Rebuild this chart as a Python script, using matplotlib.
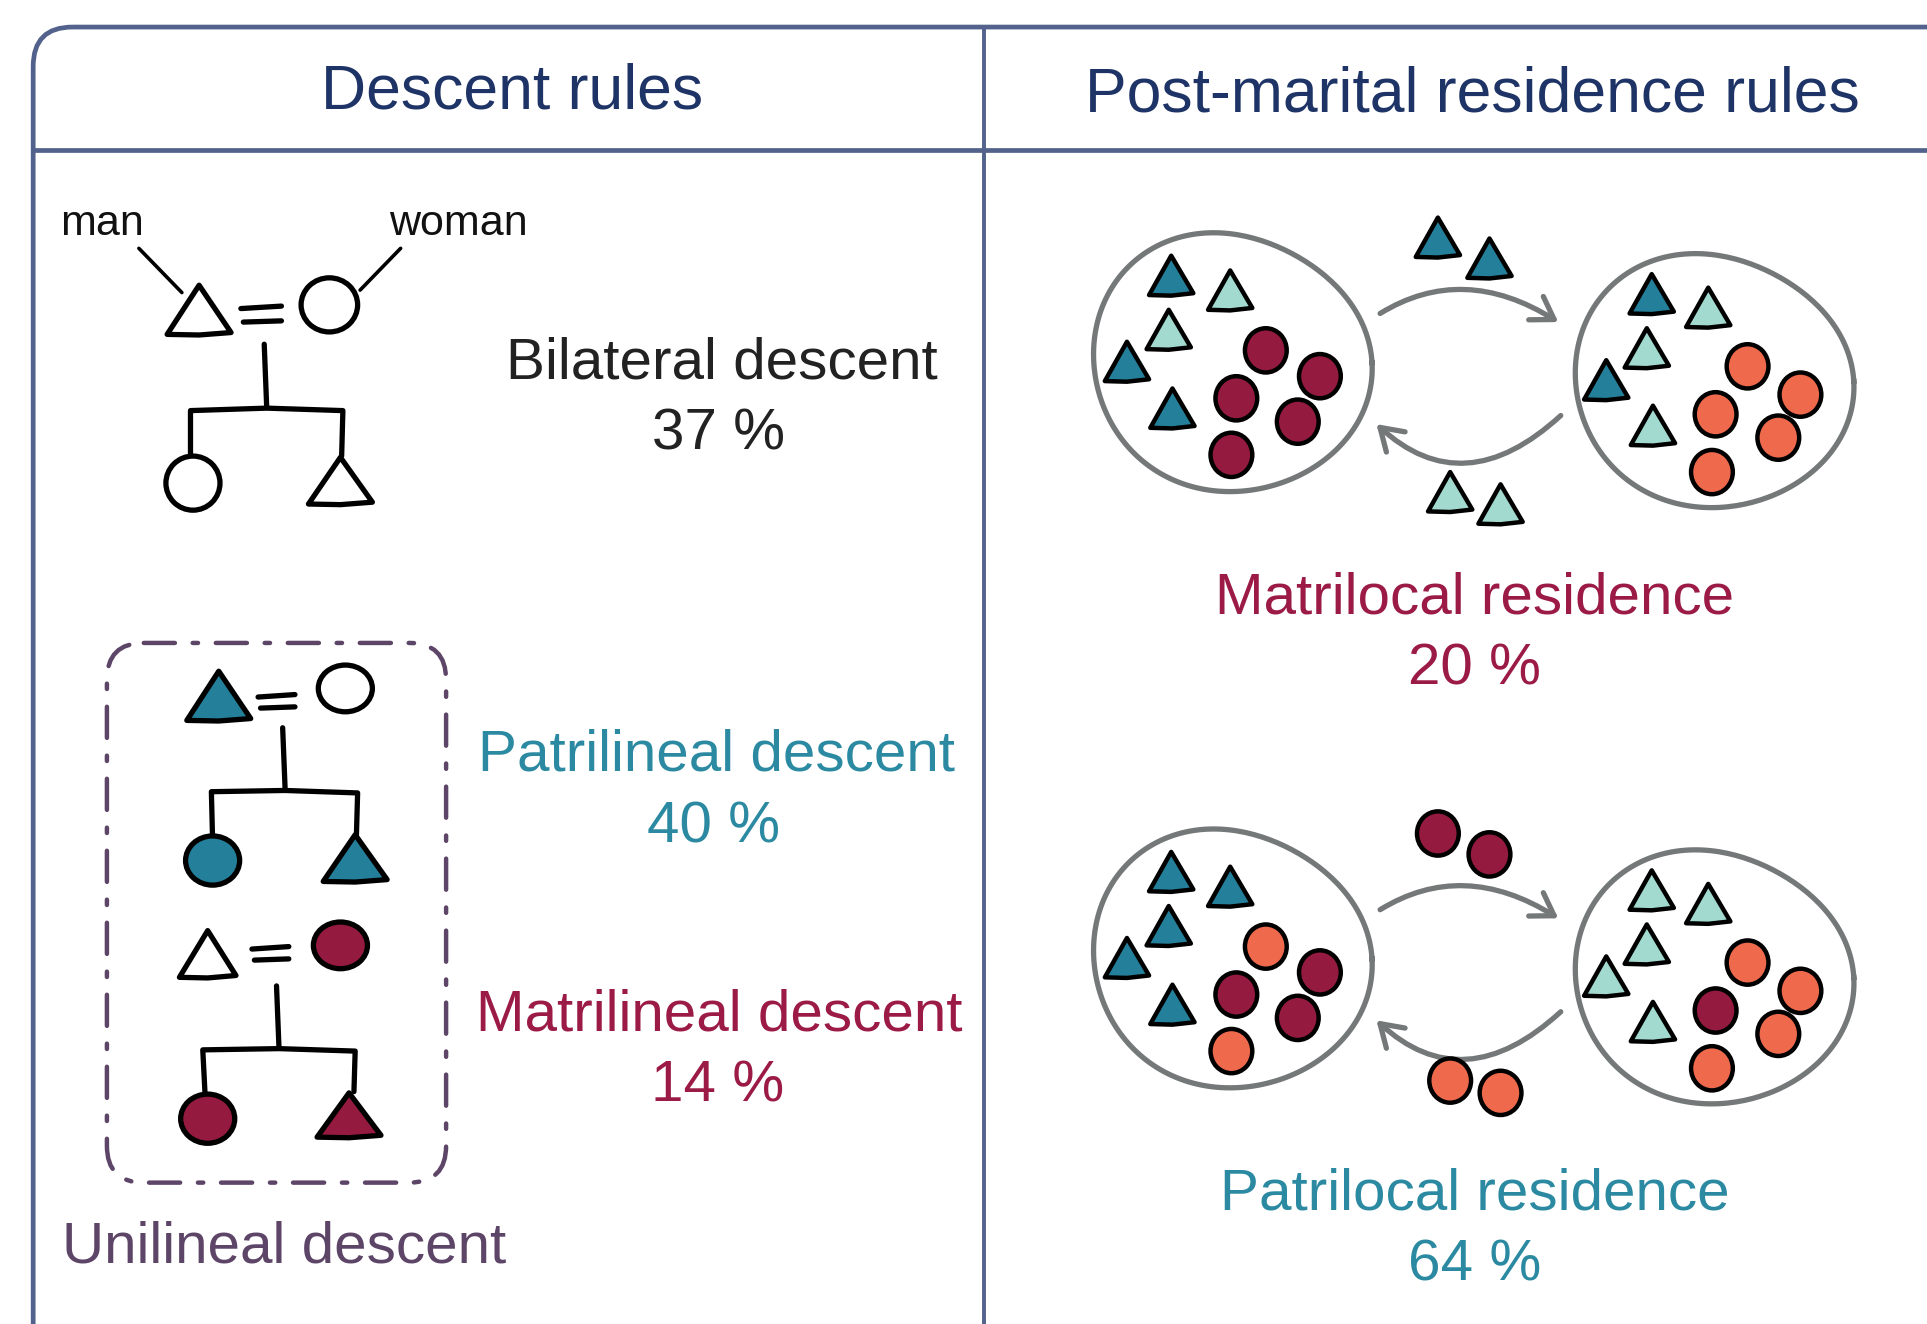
import matplotlib.pyplot as plt
from matplotlib.patches import Polygon, Ellipse, FancyBboxPatch, FancyArrowPatch
from matplotlib.path import Path
import numpy as np

plt.rcParams['font.family'] = ['Liberation Sans', 'DejaVu Sans']

# ---- data ----
descent_labels = ["Bilateral descent", "Patrilineal descent", "Matrilineal descent"]
descent_pct = [37, 40, 14]
residence_labels = ["Matrilocal residence", "Patrilocal residence"]
residence_pct = [20, 64]

# composition of the two villages (D = dark teal man, L = light teal man,
# M = maroon woman, O = orange woman)
matri_left_tri = ["D", "L", "L", "D", "D"]
matri_left_circ = ["M", "M", "M", "M", "M"]
matri_right_tri = ["D", "L", "L", "D", "L"]
matri_right_circ = ["O", "O", "O", "O", "O"]
matri_move_top = ["D", "D"]
matri_move_bottom = ["L", "L"]

patri_left_tri = ["D", "D", "D", "D", "D"]
patri_left_circ = ["O", "M", "M", "M", "O"]
patri_right_tri = ["L", "L", "L", "L", "L"]
patri_right_circ = ["O", "O", "M", "O", "O"]
patri_move_top = ["M", "M"]
patri_move_bottom = ["O", "O"]

# ---- colours ----
FRAME = "#52628c"
TITLE = "#1f3466"
TEAL = "#24809a"
LTEAL = "#a3dad0"
MAROON = "#951a3f"
ORANGE = "#ef6a4d"
GRAY = "#757878"
TXT_TEAL = "#2b8aa1"
TXT_MAROON = "#9b1b46"
PURPLE = "#5d4567"
fill = {"D": TEAL, "L": LTEAL, "M": MAROON, "O": ORANGE}

fig = plt.figure(figsize=(19.27, 13.24), dpi=100)
ax = fig.add_axes([0, 0, 1, 1])
ax.set_xlim(0, 1568)
ax.set_ylim(1077, 0)
ax.axis("off")


def tri(cx, cy, w, h, color, lw=3.2):
    pts = [(cx, cy - h / 2), (cx + w / 2, cy + h / 2 - 1.5),
           (cx, cy + h / 2 + 0.5), (cx - w / 2, cy + h / 2)]
    ax.add_patch(Polygon(pts, closed=True, facecolor=color, edgecolor="black",
                         lw=lw, joinstyle="round", zorder=3))


def circ(cx, cy, w, h, color, lw=3.2):
    ax.add_patch(Ellipse((cx, cy), w, h, facecolor=color, edgecolor="black",
                         lw=lw, zorder=3))


def line(pts, color="black", lw=3.8):
    xs, ys = zip(*pts)
    ax.plot(xs, ys, color=color, lw=lw, solid_capstyle="round",
            solid_joinstyle="round", zorder=2)


# ---- frame ----
ax.add_patch(FancyBboxPatch((27, 22), 3000, 3000,
                            boxstyle="round,pad=0,rounding_size=32",
                            facecolor="none", edgecolor=FRAME, lw=3.4))
line([(27, 122), (1568, 122)], FRAME, 3.4)
line([(801, 22), (801, 1077)], FRAME, 2.8)

ax.text(417, 88, "Descent rules", fontsize=45, color=TITLE,
        ha="center", va="baseline")
ax.text(1198, 91, "Post-marital residence rules", fontsize=45, color=TITLE,
        ha="center", va="baseline")

# ---- bilateral pedigree ----
ax.text(83, 191, "man", fontsize=31, color="#111111", ha="center", va="baseline")
ax.text(373, 191, "woman", fontsize=31, color="#111111", ha="center", va="baseline")
line([(113, 202), (148, 238)], lw=2.6)
line([(326, 202), (293, 236)], lw=2.6)
tri(162, 252, 52, 40, "white", 3.8)
line([(196, 251), (229, 249)])
line([(198, 262), (229, 261)])
circ(268, 248, 46, 44, "white", 3.8)
line([(215, 280), (217, 331)])
line([(155, 375), (155, 334), (217, 332), (279, 334), (278, 371)])
circ(157, 393, 44, 44, "white", 3.8)
tri(277, 391, 52, 38, "white", 3.8)

ax.text(587, 308, descent_labels[0], fontsize=42, color="#222222",
        ha="center", va="baseline")
ax.text(585, 366, f"{descent_pct[0]} %", fontsize=42, color="#222222",
        ha="center", va="baseline")

# ---- unilineal box ----
ax.add_patch(FancyBboxPatch((87, 523), 276, 439,
                            boxstyle="round,pad=0,rounding_size=30",
                            facecolor="none", edgecolor=PURPLE, lw=3.2,
                            linestyle=(0, (7, 4, 1.2, 4)), capstyle="round"))

# patrilineal
tri(178, 566, 52, 40, TEAL, 3.8)
line([(210, 567), (240, 565)])
line([(212, 576), (240, 575)])
circ(281, 560, 44, 38, "white", 3.8)
line([(230, 592), (232, 642)])
line([(173, 684), (172, 644), (232, 643), (291, 645), (290, 680)])
circ(173, 700, 44, 40, TEAL, 3.8)
tri(289, 698, 52, 38, TEAL, 3.8)

# matrilineal
tri(169, 776, 46, 38, "white", 3.8)
line([(205, 772), (235, 770)])
line([(207, 781), (235, 780)])
circ(277, 769, 44, 38, MAROON, 3.8)
line([(225, 802), (227, 852)])
line([(167, 893), (165, 854), (227, 853), (289, 855), (288, 888)])
circ(169, 910, 44, 40, MAROON, 3.8)
tri(284, 907, 52, 36, MAROON, 3.8)

ax.text(583, 627, descent_labels[1], fontsize=42, color=TXT_TEAL,
        ha="center", va="baseline")
ax.text(581, 685, f"{descent_pct[1]} %", fontsize=42, color=TXT_TEAL,
        ha="center", va="baseline")
ax.text(585, 838, descent_labels[2], fontsize=42, color=TXT_MAROON,
        ha="center", va="baseline")
ax.text(584, 896, f"{descent_pct[2]} %", fontsize=42, color=TXT_MAROON,
        ha="center", va="baseline")
ax.text(231, 1027, "Unilineal descent", fontsize=42, color=PURPLE,
        ha="center", va="baseline")

# ---- residence diagrams ----
left_tri_slots = [(953, 224), (1001, 236), (951, 268), (917, 294), (954, 332)]
left_circ_slots = [(1030, 285), (1074, 306), (1006, 324), (1056, 343), (1002, 370)]
right_tri_slots = [(1344, 239), (1390, 250), (1340, 283), (1307, 309), (1345, 346)]
right_circ_slots = [(1422, 298), (1465, 321), (1396, 337), (1447, 356), (1393, 384)]
top_move_slots = [(1170, 193), (1212, 210)]
bottom_move_slots = [(1180, 400), (1221, 410)]


def blob(cx, cy, rx, ry):
    t = np.linspace(0, 2 * np.pi, 200)
    r = 1 + 0.035 * np.sin(2 * t + 0.6) + 0.02 * np.cos(3 * t)
    xs = cx + rx * np.cos(t) * r
    ys = cy + ry * np.sin(t) * r
    ax.plot(xs, ys, color=GRAY, lw=3.8, zorder=1)


def arc_arrow(p0, peak, p1):
    c = (2 * peak[0] - (p0[0] + p1[0]) / 2, 2 * peak[1] - (p0[1] + p1[1]) / 2)
    path = Path([p0, c, p1], [Path.MOVETO, Path.CURVE3, Path.CURVE3])
    ax.add_patch(FancyArrowPatch(path=path, arrowstyle="->,head_length=0.7,head_width=0.45",
                                 mutation_scale=22, lw=3.8, color=GRAY,
                                 capstyle="round", joinstyle="round"))


def residence(dy, lt, lc, rt, rc, mt, mb, label, pct, color):
    blob(1001, 295 + dy, 111, 107)
    blob(1393, 310 + dy, 111, 105)
    arc_arrow((1123, 255 + dy), (1193, 236 + dy), (1268, 262 + dy))
    arc_arrow((1270, 338 + dy), (1193, 376 + dy), (1120, 345 + dy))
    for (x, y), k in zip(left_tri_slots, lt):
        tri(x, y + dy, 36, 32, fill[k])
    for (x, y), k in zip(left_circ_slots, lc):
        circ(x, y + dy, 34, 36, fill[k])
    for (x, y), k in zip(right_tri_slots, rt):
        tri(x, y + dy, 36, 32, fill[k])
    for (x, y), k in zip(right_circ_slots, rc):
        circ(x, y + dy, 34, 36, fill[k])
    for (x, y), k in zip(top_move_slots, mt):
        if k in "DL":
            tri(x, y + dy, 36, 32, fill[k])
        else:
            circ(x, y + dy, 34, 36, fill[k])
    for (x, y), k in zip(bottom_move_slots, mb):
        if k in "DL":
            tri(x, y + dy, 36, 32, fill[k])
        else:
            circ(x, y + dy - 6, 34, 36, fill[k])
    ax.text(1200, 499 + dy, label, fontsize=42, color=color, ha="center", va="baseline")
    ax.text(1200, 557 + dy, f"{pct} %", fontsize=42, color=color, ha="center", va="baseline")


residence(0, matri_left_tri, matri_left_circ, matri_right_tri, matri_right_circ,
          matri_move_top, matri_move_bottom, residence_labels[0], residence_pct[0], TXT_MAROON)
residence(485, patri_left_tri, patri_left_circ, patri_right_tri, patri_right_circ,
          patri_move_top, patri_move_bottom, residence_labels[1], residence_pct[1], TXT_TEAL)

fig.savefig("out.png", dpi=100)
